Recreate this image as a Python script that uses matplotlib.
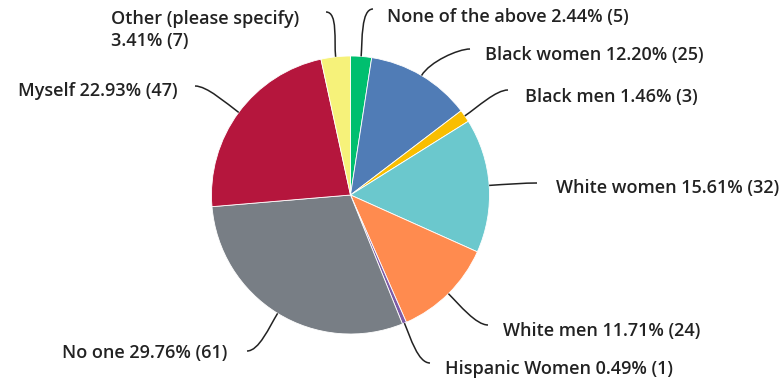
from matplotlib import pyplot as plt
from matplotlib.path import Path
from matplotlib.patches import PathPatch
import numpy as np

# answer categories, clockwise from 12 o'clock
labels = ['None of the above', 'Black women', 'Black men', 'White women',
          'White men', 'Hispanic Women', 'No one', 'Myself',
          'Other (please specify)']
counts = [5, 25, 3, 32, 24, 1, 61, 47, 7]
percents = [2.44, 12.20, 1.46, 15.61, 11.71, 0.49, 29.76, 22.93, 3.41]
colors = ['#00bf6f', '#507cb6', '#f9be00', '#6bc8cd', '#ff8b4f',
          '#7d5ba6', '#787e85', '#b5163d', '#f6f27a']

W, H = 779, 382
cx, cy, R = 350.5, H - 195, 139

fig = plt.figure(figsize=(W / 100, H / 100), dpi=100)
ax = fig.add_axes([0, 0, 1, 1])
wedges, _ = ax.pie(percents, colors=colors, startangle=90, counterclock=False,
                   center=(cx, cy), radius=R,
                   wedgeprops=dict(edgecolor='white', linewidth=0.6))
ax.set_xlim(0, W)
ax.set_ylim(0, H)
ax.set_aspect('auto')
ax.axis('off')

# where each leader line ends (pixels from top-left), and which side the text sits
ends = [(373, 9, 1), (470, 49, 1), (508, 90, 1), (537, 183, 1),
        (488, 325, 1), (430, 363, 1), (247, 351, -1), (195, 86, -1),
        (326, 12, -1)]
# text anchor points
text_pos = [(387, 17), (485, 55), (525, 97), (556, 188),
            (503, 331), (445, 369), (227, 353), (178, 91), (111, 30)]

font = dict(family=['Open Sans', 'DejaVu Sans'], fontsize=13, fontweight='semibold',
            color='#222222')

for w, lab, n, p, (ex, ey, side), (tx, ty) in zip(wedges, labels, counts,
                                                   percents, ends, text_pos):
    mid = np.deg2rad((w.theta1 + w.theta2) / 2)
    x0, y0 = cx + R * np.cos(mid), cy + R * np.sin(mid)
    p1 = (x0 + 16 * np.cos(mid), y0 + 16 * np.sin(mid))
    p3 = (ex, H - ey)
    p2 = (p3[0] - side * 12, p3[1])
    path = Path([(x0, y0), p1, p2, p3],
                [Path.MOVETO, Path.CURVE4, Path.CURVE4, Path.CURVE4])
    ax.add_patch(PathPatch(path, fill=False, edgecolor='#222222', lw=1.1))

    if lab.startswith('Other'):
        txt = '{}\n{:.2f}% ({})'.format(lab, p, n)
        ax.text(tx, H - ty, txt, ha='left', va='center', linespacing=1.25, **font)
    else:
        txt = '{} {:.2f}% ({})'.format(lab, p, n)
        ax.text(tx, H - ty, txt, ha='left' if side > 0 else 'right',
                va='center', **font)

fig.savefig('out.png', dpi=100)
